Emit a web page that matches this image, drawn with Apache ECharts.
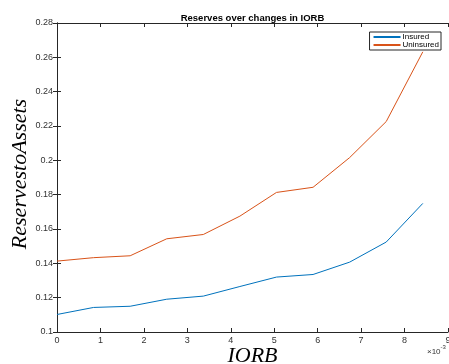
<!DOCTYPE html>
<html>
<head>
<meta charset="utf-8">
<script src="https://cdn.jsdelivr.net/npm/echarts@6/dist/echarts.min.js"></script>
<style>html,body{margin:0;padding:0;background:#fff}#c{width:449px;height:364px}</style>
</head>
<body>
<div id="c"></div>
<script>
// IORB values (real units, shown on axis ×10^-3)
var iorb = [0, 0.000842, 0.001684, 0.002526, 0.003368, 0.00421, 0.005052, 0.005894, 0.006736, 0.007578, 0.00842];
var insured = [0.1102, 0.1143, 0.1150, 0.1191, 0.1209, 0.1265, 0.1320, 0.1335, 0.1407, 0.1524, 0.1749];
var uninsured = [0.1413, 0.1433, 0.1444, 0.1543, 0.1568, 0.1675, 0.1813, 0.1843, 0.2016, 0.2226, 0.2632];
var xTicks = [0, 1, 2, 3, 4, 5, 6, 7, 8, 9];
var yTicks = ['0.1', '0.12', '0.14', '0.16', '0.18', '0.2', '0.22', '0.24', '0.26', '0.28'];
var xName = 'IORB';
var yName = 'ReservestoAssets';

function pairs(xs, ys) { return xs.map(function (x, i) { return [x, ys[i]]; }); }

var axisColor = '#262626';
var labelFont = { fontFamily: 'Liberation Sans, Arial, sans-serif', fontSize: 9, color: '#333' };
var nameFont = 'italic 22px "Liberation Serif", "Times New Roman", serif';

var chart = echarts.init(document.getElementById('c'), null, { renderer: 'canvas' });
chart.setOption({
  animation: false,
  backgroundColor: '#fff',
  title: {
    text: 'Reserves over changes in IORB',
    left: 252.5, top: 13, textAlign: 'center', padding: 0,
    textStyle: { fontFamily: 'Liberation Sans, Arial, sans-serif', fontSize: 9.5, fontWeight: 'bold', color: '#000' }
  },
  legend: {
    orient: 'vertical', right: 8, top: 32,
    itemWidth: 27, itemHeight: 2, itemGap: 0,
    icon: 'rect',
    borderColor: axisColor, borderWidth: 1, padding: [1, 2, 1, 4],
    backgroundColor: '#fff',
    textStyle: { fontFamily: 'Liberation Sans, Arial, sans-serif', fontSize: 8, color: '#000', padding: [0, 0, 0, -3], lineHeight: 8 },
    data: ['Insured', 'Uninsured']
  },
  grid: { left: 57, right: 1, top: 23, bottom: 32, containLabel: false, outerBoundsMode: 'none' },
  xAxis: [{
    type: 'value', min: 0, max: 0.009, interval: 0.001,
    axisLine: { show: true, lineStyle: { color: axisColor, width: 1 } },
    axisTick: { show: true, inside: true, length: 4, lineStyle: { color: axisColor } },
    splitLine: { show: false },
    axisLabel: Object.assign({ margin: 4, formatter: function (v) { return String(xTicks[Math.round(v * 1000)]); } }, labelFont)
  }, {
    type: 'value', min: 0, max: 0.009, interval: 0.001, position: 'top',
    axisLine: { show: true, lineStyle: { color: axisColor, width: 1 } },
    axisTick: { show: true, inside: true, length: 4, lineStyle: { color: axisColor } },
    axisLabel: { show: false }, splitLine: { show: false }
  }],
  yAxis: [{
    type: 'value', min: 0.1, max: 0.28, interval: 0.02,
    axisLine: { show: true, lineStyle: { color: axisColor, width: 1 } },
    axisTick: { show: true, inside: true, length: 4, lineStyle: { color: axisColor } },
    splitLine: { show: false },
    axisLabel: Object.assign({ margin: 4, formatter: function (v) { return yTicks[Math.round((v - 0.1) / 0.02)]; } }, labelFont)
  }, {
    type: 'value', min: 0.1, max: 0.28, interval: 0.02, position: 'right',
    axisLine: { show: true, lineStyle: { color: axisColor, width: 1 } },
    axisTick: { show: true, inside: true, length: 4, lineStyle: { color: axisColor } },
    axisLabel: { show: false }, splitLine: { show: false }
  }],
  graphic: [{
    type: 'text', x: 252.5, y: 356,
    style: { text: xName, font: nameFont, fill: '#000', textAlign: 'center', textVerticalAlign: 'middle' }
  }, {
    type: 'text', x: 20, y: 174, rotation: Math.PI / 2,
    style: { text: yName, font: nameFont, fill: '#000', textAlign: 'center', textVerticalAlign: 'middle' }
  }, {
    type: 'text', left: 427, top: 344,
    style: {
      text: '{a|×10}{b|-3}',
      rich: {
        a: { fontFamily: 'Liberation Sans, Arial, sans-serif', fontSize: 8, fill: '#333', padding: [4, 0, 0, 0] },
        b: { fontFamily: 'Liberation Sans, Arial, sans-serif', fontSize: 6, fill: '#333', verticalAlign: 'top' }
      }
    }
  }],
  series: [{
    name: 'Insured', type: 'line', data: pairs(iorb, insured),
    showSymbol: false, symbol: 'none', color: '#0072BD',
    lineStyle: { width: 1, color: '#0072BD' }
  }, {
    name: 'Uninsured', type: 'line', data: pairs(iorb, uninsured),
    showSymbol: false, symbol: 'none', color: '#D95319',
    lineStyle: { width: 1, color: '#D95319' }
  }]
});
</script>
</body>
</html>
